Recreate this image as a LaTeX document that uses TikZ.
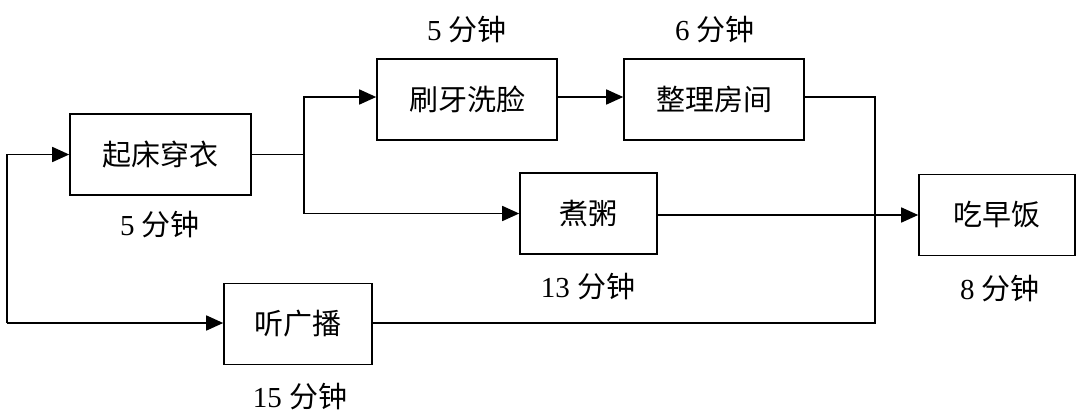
\documentclass[tikz,border=0pt]{standalone}
\usepackage{fontspec}
\setmainfont{Liberation Serif}
\newfontfamily\cjk{Noto Sans CJK SC}
\usetikzlibrary{arrows.meta}
\begin{document}
\begin{tikzpicture}[x=1pt,y=-1pt,
  box/.style={draw,line width=1.6pt,minimum height=81pt,inner sep=0pt,font=\cjk\fontsize{29}{32}\selectfont},
  lab/.style={font=\fontsize{29}{32}\selectfont,inner sep=0pt},
  conn/.style={line width=1.6pt},
  arr/.style={conn,-{Triangle[length=17pt,width=15pt]}}]
\useasboundingbox (0,0) rectangle (1080,418);
\node[box,minimum width=181pt] (a) at (160.5,154.5) {起床穿衣};
\node[box,minimum width=180pt] (b) at (467,99.5) {刷牙洗脸};
\node[box,minimum width=180pt] (c) at (714,99.5) {整理房间};
\node[box,minimum width=137pt] (d) at (588.5,213.5) {煮粥};
\node[box,minimum width=156pt] (e) at (997,215) {吃早饭};
\node[box,minimum width=148pt] (f) at (298,324) {听广播};
\node[lab] (la) at (160,225) {5 {\cjk 分钟}};
\node[lab] (lb) at (467,30) {5 {\cjk 分钟}};
\node[lab] (lc) at (715,30) {6 {\cjk 分钟}};
\node[lab] (ld) at (588,287) {13 {\cjk 分钟}};
\node[lab] (le) at (1000,289) {8 {\cjk 分钟}};
\node[lab] (lf) at (300,397) {15 {\cjk 分钟}};
\coordinate (j1) at (304,154.5);
\coordinate (j2) at (875,97);
\coordinate (j3) at (875,323);
\coordinate (l1) at (7,154.5);
\coordinate (l2) at (7,323);
\draw[conn] (a.east) -- (j1);
\draw[arr] (j1) |- (b.west |- 0,97);
\draw[arr] (j1) |- (d.west);
\draw[arr] (b.east |- 0,97) -- (c.west |- 0,97);
\draw[conn] (c.east |- 0,97) -- (j2) -- (j3) -- (f.east |- 0,323);
\draw[arr] (d.east |- 0,215) -- (e.west);
\draw[arr] (l2) -- (l1) -- (a.west);
\draw[arr] (l2) -- (f.west |- 0,323);
\end{tikzpicture}
\end{document}
